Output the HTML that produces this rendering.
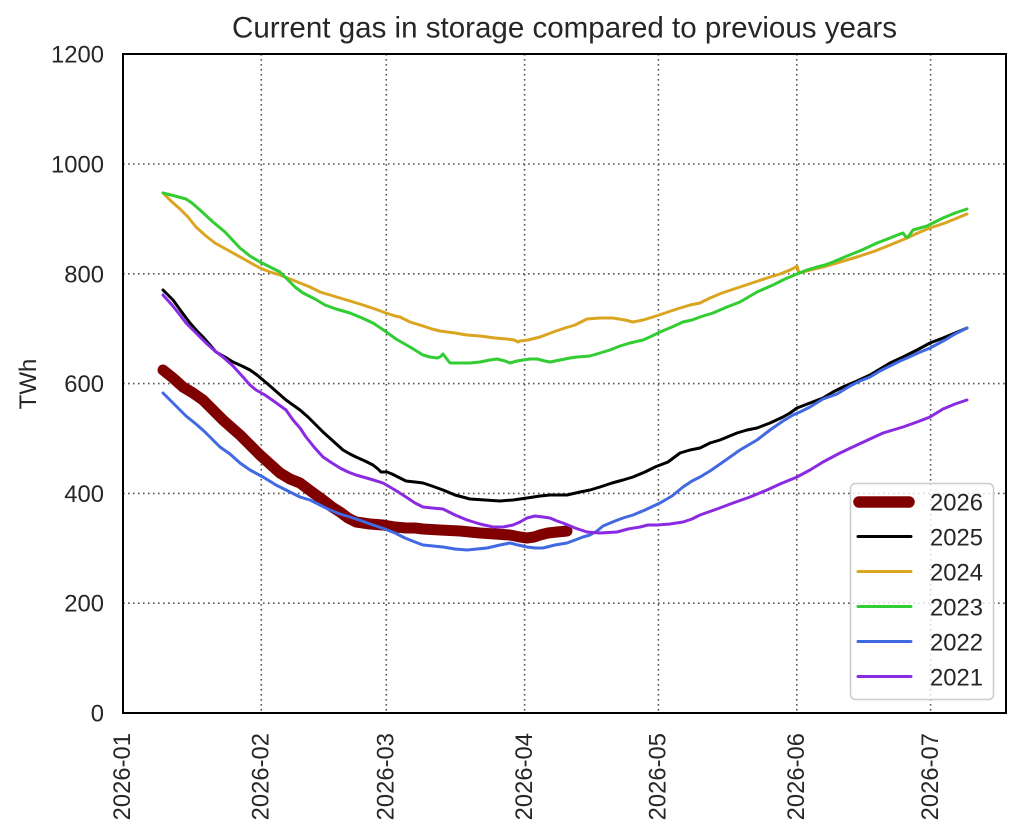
<!DOCTYPE html>
<html><head><meta charset="utf-8"><style>
html,body{margin:0;padding:0;background:#fff;}
svg{display:block;}
text{font-family:"Liberation Sans",Arial,sans-serif;fill:#262626;}
</style></head><body>
<svg width="1024" height="839" viewBox="0 0 1024 839" xmlns="http://www.w3.org/2000/svg">
<rect width="1024" height="839" fill="#fff"/>
<!-- grid -->
<g stroke="#555" stroke-width="1.6" stroke-dasharray="1.6 3.4" fill="none">
<line x1="123" y1="164" x2="1006" y2="164"/>
<line x1="123" y1="273.8" x2="1006" y2="273.8"/>
<line x1="123" y1="383.6" x2="1006" y2="383.6"/>
<line x1="123" y1="493.4" x2="1006" y2="493.4"/>
<line x1="123" y1="603.2" x2="1006" y2="603.2"/>
<line x1="261.3" y1="54" x2="261.3" y2="713"/>
<line x1="386.3" y1="54" x2="386.3" y2="713"/>
<line x1="524.6" y1="54" x2="524.6" y2="713"/>
<line x1="658.4" y1="54" x2="658.4" y2="713"/>
<line x1="796.8" y1="54" x2="796.8" y2="713"/>
<line x1="930.6" y1="54" x2="930.6" y2="713"/>
</g>
<!-- series -->
<g fill="none" stroke-linejoin="round" stroke-linecap="round">
<polyline stroke="#800000" stroke-width="11" points="163,370 173,378 183,387 193,393 203,400 213,410 223,420 232,428 240,435 250,445 260,455 270,464 280,473 290,479 300,483 312,492 323,500 332,507 340,512 348,518 356,522 370,524 383,525 395,527 406,528 415,528 423,529 440,530 460,531 480,533 495,534 510,535 520,537 527,538 534,537 540,535 548,533 557,532 567,531"/>
<polyline stroke="#000000" stroke-width="3" points="163,290 173,300 181,311 190,323 197,331 203,337 210,345 216,352 225,357 233,362 242,366 250,370 257,375 263,380 270,386 278,393 286,400 293,405 300,410 308,417 316,425 323,432 333,441 343,450 350,454 356,457 365,461 373,465 378,469 381,472 387,472 392,474 400,478 406,481 415,482 423,483 432,486 443,490 455,495 470,499 485,500 500,501 513,500 527,498 540,496 550,495 560,495 567,495 580,492 590,490 600,487 612,483 623,480 633,477 645,472 655,467 668,462 680,453 690,450 700,448 710,443 720,440 737,433 747,430 757,428 770,423 783,417 790,413 797,408 810,403 823,398 833,392 843,387 857,381 870,375 880,369 890,363 903,357 917,350 930,343 943,338 955,333 967,328"/>
<polyline stroke="#DAA520" stroke-width="3" points="163,193 171,201 180,209 188,217 196,227 206,236 215,243 224,248 233,253 242,258 251,263 260,268 270,272 280,275 290,279 300,283 310,287 320,292 330,295 340,298 350,301 363,305 375,309 386,313 395,316 400,317 410,322 423,326 432,329 440,331 455,333 467,335 480,336 495,338 507,339 514,340 518,342 520,341 528,340 540,337 548,334 556,331 565,328 575,325 587,319 600,318 613,318 625,320 633,322 643,320 653,317 665,313 677,309 690,305 700,303 710,298 722,293 740,287 755,282 767,278 780,274 790,270 796,267 797,266 799,273 810,270 823,267 840,262 857,257 875,251 890,245 907,238 920,232 930,228 945,223 967,214"/>
<polyline stroke="#32CD32" stroke-width="3" points="163,193 175,196 186,199 192,203 200,210 213,222 225,232 240,248 250,256 260,262 270,267 280,272 288,280 295,287 303,293 315,299 325,305 336,309 350,313 362,318 373,323 385,331 396,339 410,347 423,355 430,357 437,358 440,357 443,354 446,358 450,363 460,363 470,363 480,362 490,360 497,359 505,361 510,363 517,361 523,360 530,359 537,359 545,361 550,362 560,360 570,358 577,357 590,356 600,353 610,350 620,346 630,343 643,340 652,336 660,332 672,327 683,322 692,320 700,317 713,313 727,307 740,302 757,292 773,285 785,279 797,274 807,270 817,267 825,265 833,262 847,256 862,250 877,243 890,238 900,234 903,233 906,237 908,237 913,230 927,226 943,218 955,213 967,209"/>
<polyline stroke="#4169E1" stroke-width="3" points="163,393 170,400 178,408 186,416 196,424 205,432 213,440 220,447 230,454 240,463 250,470 263,477 276,485 290,492 300,497 310,500 320,505 330,510 340,514 350,517 362,521 373,525 385,529 395,533 405,538 415,542 423,545 433,546 443,547 455,549 467,550 477,549 487,548 500,545 510,543 518,545 527,547 535,548 543,548 555,545 567,543 575,540 583,537 590,535 597,531 603,526 615,521 623,518 633,515 645,510 660,503 672,496 683,487 692,481 700,477 710,471 723,462 740,450 757,440 770,430 783,421 793,415 800,412 810,407 823,399 837,394 850,386 860,381 870,377 880,371 890,366 900,361 907,358 918,353 930,348 945,340 955,334 967,328"/>
<polyline stroke="#8A2BE2" stroke-width="3" points="163,295 172,305 180,315 186,323 196,333 206,343 215,351 223,357 233,366 243,377 250,385 256,390 265,395 275,402 286,410 293,420 300,428 306,437 314,447 323,457 332,463 340,468 348,472 356,475 370,479 383,483 395,490 406,497 415,503 423,507 432,508 443,509 455,515 467,520 480,524 493,527 503,527 513,525 520,522 527,518 535,516 543,517 550,518 557,521 563,523 575,528 587,532 600,533 617,532 628,529 640,527 648,525 657,525 670,524 683,522 692,519 700,515 717,509 733,503 750,497 767,490 780,484 797,477 810,470 823,462 840,453 857,445 870,439 883,433 893,430 903,427 917,422 930,417 943,409 955,404 967,400"/>
</g>
<!-- spines -->
<rect x="123" y="54" width="883" height="659" fill="none" stroke="#000" stroke-width="2"/>
<!-- y tick labels -->
<g font-size="23.8" text-anchor="end">
<text x="104" y="62.5">1200</text>
<text x="104" y="172.5">1000</text>
<text x="104" y="282.3">800</text>
<text x="104" y="392.1">600</text>
<text x="104" y="501.9">400</text>
<text x="104" y="611.7">200</text>
<text x="104" y="721.5">0</text>
</g>
<!-- x tick labels -->
<g font-size="23.8" text-anchor="end">
<text x="130.2" y="733" transform="rotate(-90 130.2 733)">2026-01</text>
<text x="268.5" y="733" transform="rotate(-90 268.5 733)">2026-02</text>
<text x="393.5" y="733" transform="rotate(-90 393.5 733)">2026-03</text>
<text x="531.8" y="733" transform="rotate(-90 531.8 733)">2026-04</text>
<text x="665.6" y="733" transform="rotate(-90 665.6 733)">2026-05</text>
<text x="804" y="733" transform="rotate(-90 804 733)">2026-06</text>
<text x="937.8" y="733" transform="rotate(-90 937.8 733)">2026-07</text>
</g>
<!-- y label -->
<text x="36" y="384" font-size="24" text-anchor="middle" transform="rotate(-90 36 384)">TWh</text>
<!-- title -->
<text x="564.5" y="37.5" font-size="29.5" text-anchor="middle" textLength="665" lengthAdjust="spacingAndGlyphs">Current gas in storage compared to previous years</text>
<!-- legend -->
<rect x="850.5" y="483.5" width="143" height="216" rx="5" ry="5" fill="#fff" fill-opacity="0.8" stroke="#cccccc" stroke-width="1.5"/>
<g fill="none" stroke-linecap="round">
<line x1="859" y1="502" x2="909" y2="502" stroke="#800000" stroke-width="11.5"/>
<line x1="858" y1="536.5" x2="911" y2="536.5" stroke="#000000" stroke-width="3"/>
<line x1="858" y1="571.5" x2="911" y2="571.5" stroke="#DAA520" stroke-width="3"/>
<line x1="858" y1="606.5" x2="911" y2="606.5" stroke="#32CD32" stroke-width="3"/>
<line x1="858" y1="641.5" x2="911" y2="641.5" stroke="#4169E1" stroke-width="3"/>
<line x1="858" y1="676.5" x2="911" y2="676.5" stroke="#8A2BE2" stroke-width="3"/>
</g>
<g font-size="23.8">
<text x="930" y="510.5">2026</text>
<text x="930" y="545.5">2025</text>
<text x="930" y="580.5">2024</text>
<text x="930" y="615.5">2023</text>
<text x="930" y="650.5">2022</text>
<text x="930" y="685.5">2021</text>
</g>
</svg>
</body></html>
